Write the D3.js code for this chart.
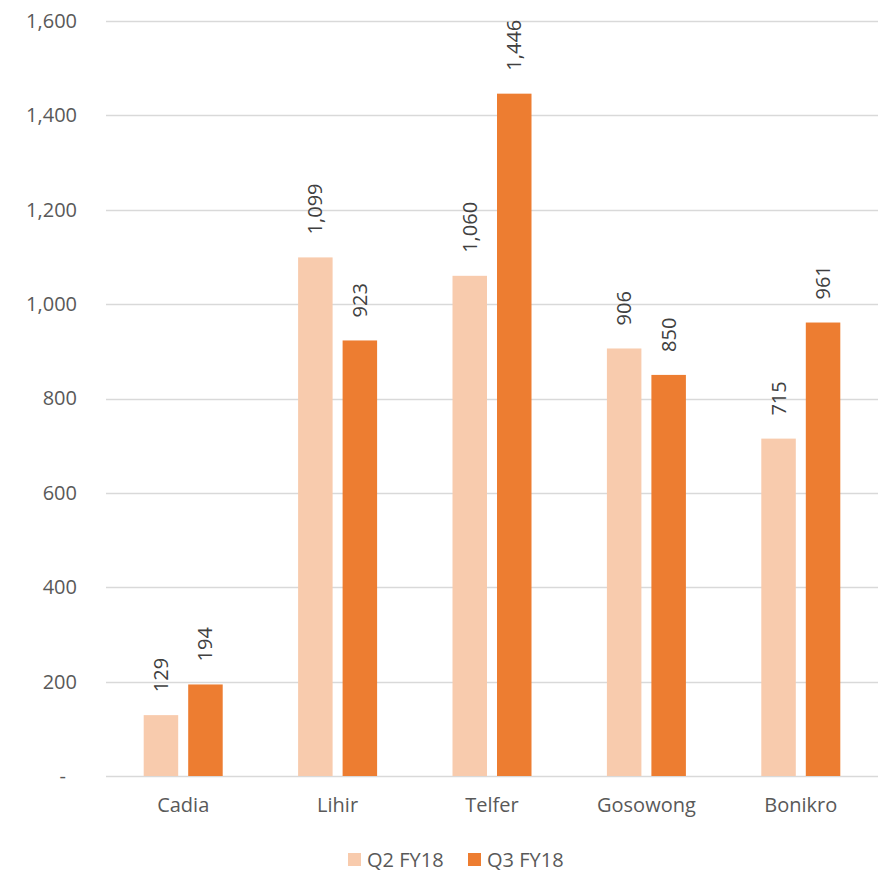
<!DOCTYPE html>
<html>
<head>
<meta charset="utf-8">
<script src="https://cdn.jsdelivr.net/npm/d3@7"></script>
<style>
  html, body { margin: 0; padding: 0; background: #fff; }
  svg { display: block; font-family: "Open Sans", sans-serif; }
</style>
</head>
<body>
<svg id="chart" width="882" height="873"></svg>
<script>
// Mine sites and quarterly values
const sites = ["Cadia", "Lihir", "Telfer", "Gosowong", "Bonikro"];
const seriesNames = ["Q2 FY18", "Q3 FY18"];
const q2Values = [129, 1099, 1060, 906, 715];
const q3Values = [194, 923, 1446, 850, 961];
const yTicks = [0, 200, 400, 600, 800, 1000, 1200, 1400, 1600];
const colors = ["#F8CBAD", "#ED7D31"];

const svg = d3.select("#chart");
const margin = { left: 106, right: 4, top: 21, bottom: 97 };
const W = 882, H = 873;
const fontSize = 20;

const x = d3.scaleBand().domain(sites).range([margin.left, W - margin.right]);
const y = d3.scaleLinear().domain([0, 1600]).range([H - margin.bottom, margin.top]);

const barW = 34.5, barGap = 10;
const groupW = 2 * barW + barGap;

const fmt = d3.format(",");
const textColor = "#595959";

// Gridlines
svg.append("g").selectAll("line").data(yTicks).join("line")
  .attr("x1", margin.left).attr("x2", W - margin.right)
  .attr("y1", d => Math.round(y(d)) + 0.5).attr("y2", d => Math.round(y(d)) + 0.5)
  .attr("stroke", "#d9d9d9").attr("stroke-width", 1.3);

// Y axis labels (accounting style: zero shown as a dash)
const yAxis = d3.axisLeft(y).tickValues(yTicks).tickSize(0).tickPadding(0)
  .tickFormat(d => d === 0 ? "-" : fmt(d));
const yg = svg.append("g").attr("transform", `translate(77,0)`).call(yAxis);
yg.select(".domain").remove();
yg.selectAll("text").attr("fill", textColor).attr("font-size", fontSize)
  .attr("font-family", "'Open Sans', sans-serif")
  .attr("dx", d => d === 0 ? -11 : 0);

// X axis labels
const xAxis = d3.axisBottom(x).tickSize(0).tickPadding(0);
const xg = svg.append("g").attr("transform", `translate(0,${y(0) + 22})`).call(xAxis);
xg.select(".domain").remove();
xg.selectAll("text").attr("fill", textColor).attr("font-size", fontSize)
  .attr("font-family", "'Open Sans', sans-serif");

// Bars and rotated value labels
const rows = sites.map((s, i) => ({ site: s, values: [q2Values[i], q3Values[i]] }));
const groups = svg.append("g").selectAll("g").data(rows).join("g")
  .attr("transform", d => `translate(${x(d.site) + (x.bandwidth() - groupW) / 2},0)`);

groups.selectAll("rect").data(d => d.values.map((v, j) => ({ v, j }))).join("rect")
  .attr("x", d => d.j * (barW + barGap))
  .attr("width", barW)
  .attr("y", d => y(d.v))
  .attr("height", d => y(0) - y(d.v))
  .attr("fill", d => colors[d.j]);

groups.selectAll("text.val").data(d => d.values.map((v, j) => ({ v, j }))).join("text")
  .attr("class", "val")
  .attr("transform", d => `translate(${d.j * (barW + barGap) + barW / 2 + 7},${y(d.v) - 23}) rotate(-90)`)
  .attr("text-anchor", "start")
  .attr("fill", "#404040")
  .attr("font-size", fontSize)
  .text(d => fmt(d.v));

// Legend
const legend = svg.append("g");
const legendX = [348, 468];
seriesNames.forEach((name, i) => {
  legend.append("rect").attr("x", legendX[i]).attr("y", 853).attr("width", 13).attr("height", 13).attr("fill", colors[i]);
  legend.append("text").attr("x", legendX[i] + 19).attr("y", 867).attr("fill", textColor)
    .attr("font-size", fontSize).text(name);
});
</script>
</body>
</html>
